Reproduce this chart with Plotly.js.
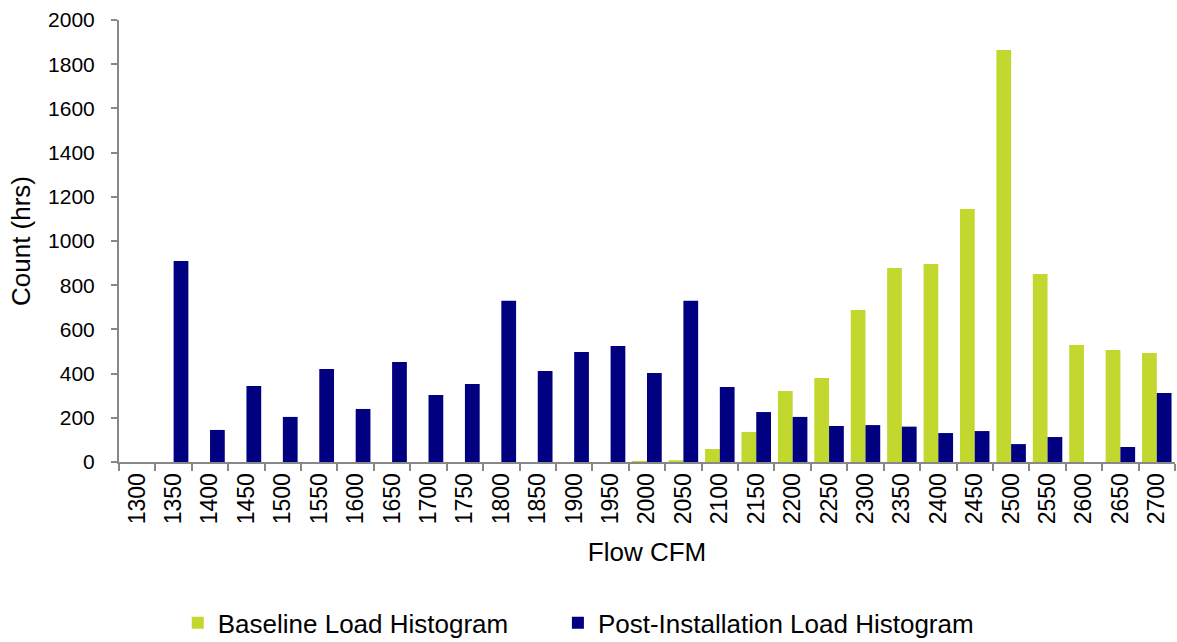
<!DOCTYPE html>
<html>
<head>
<meta charset="utf-8">
<script src="https://cdn.plot.ly/plotly-3.0.1.min.js"></script>
<style>html,body{margin:0;padding:0;background:#fff;}#chart{width:1177px;height:642px;}</style>
</head>
<body>
<div id="chart"></div>
<script>
const categories = ["1300","1350","1400","1450","1500","1550","1600","1650","1700","1750","1800","1850","1900","1950","2000","2050","2100","2150","2200","2250","2300","2350","2400","2450","2500","2550","2600","2650","2700"];
const baselineValues = [0,0,0,0,0,0,0,0,0,0,0,0,0,0,5,8,59,136,321,380,688,878,896,1145,1864,851,529,507,493];
const postValues = [0,910,145,344,204,421,240,452,303,353,730,412,498,525,403,730,339,226,204,163,167,160,131,140,81,113,0,68,312];
const seriesNames = ["Baseline Load Histogram","Post-Installation Load Histogram"];

const fontFam = '"Liberation Sans", Arial, sans-serif';
const traces = [
  {type:'bar', x:categories, y:baselineValues, name:seriesNames[0], legend:'legend',
   marker:{color:'#C2D82F', line:{width:0}}},
  {type:'bar', x:categories, y:postValues, name:seriesNames[1], legend:'legend2',
   marker:{color:'#000080', line:{width:0}}}
];
const legendBase = {orientation:'h', xref:'container', yref:'container', xanchor:'left',
          y:0.03, yanchor:'middle', font:{size:26, family:fontFam}, itemwidth:30};
const layout = {
  width:1177, height:642,
  margin:{l:119, r:2, t:20, b:180},
  paper_bgcolor:'#fff', plot_bgcolor:'#fff',
  font:{family:fontFam, size:20, color:'#000'},
  barmode:'group', bargap:0.19, bargroupgap:0,
  showlegend:true,
  legend:Object.assign({}, legendBase, {x:0.151}),
  legend2:Object.assign({}, legendBase, {x:0.474}),
  xaxis:{type:'category', tickangle:-90, showline:true, linecolor:'#888', linewidth:2,
         ticks:'outside', tickson:'boundaries', ticklen:7, tickcolor:'#888', tickwidth:2,
         showgrid:false, tickfont:{size:23}, automargin:false,
         title:{text:'Flow CFM', font:{size:26}, standoff:19}},
  yaxis:{range:[0,2000], dtick:200, showline:true, linecolor:'#888', linewidth:2,
         ticks:'outside', ticklen:6, tickcolor:'#888', tickwidth:2, showgrid:false,
         zeroline:false, tickfont:{size:21}, automargin:false, ticklabelstandoff:12,
         title:{text:'Count (hrs)', font:{size:26}, standoff:10}}
};
Plotly.newPlot('chart', traces, layout, {displayModeBar:false, staticPlot:true});
</script>
</body>
</html>
